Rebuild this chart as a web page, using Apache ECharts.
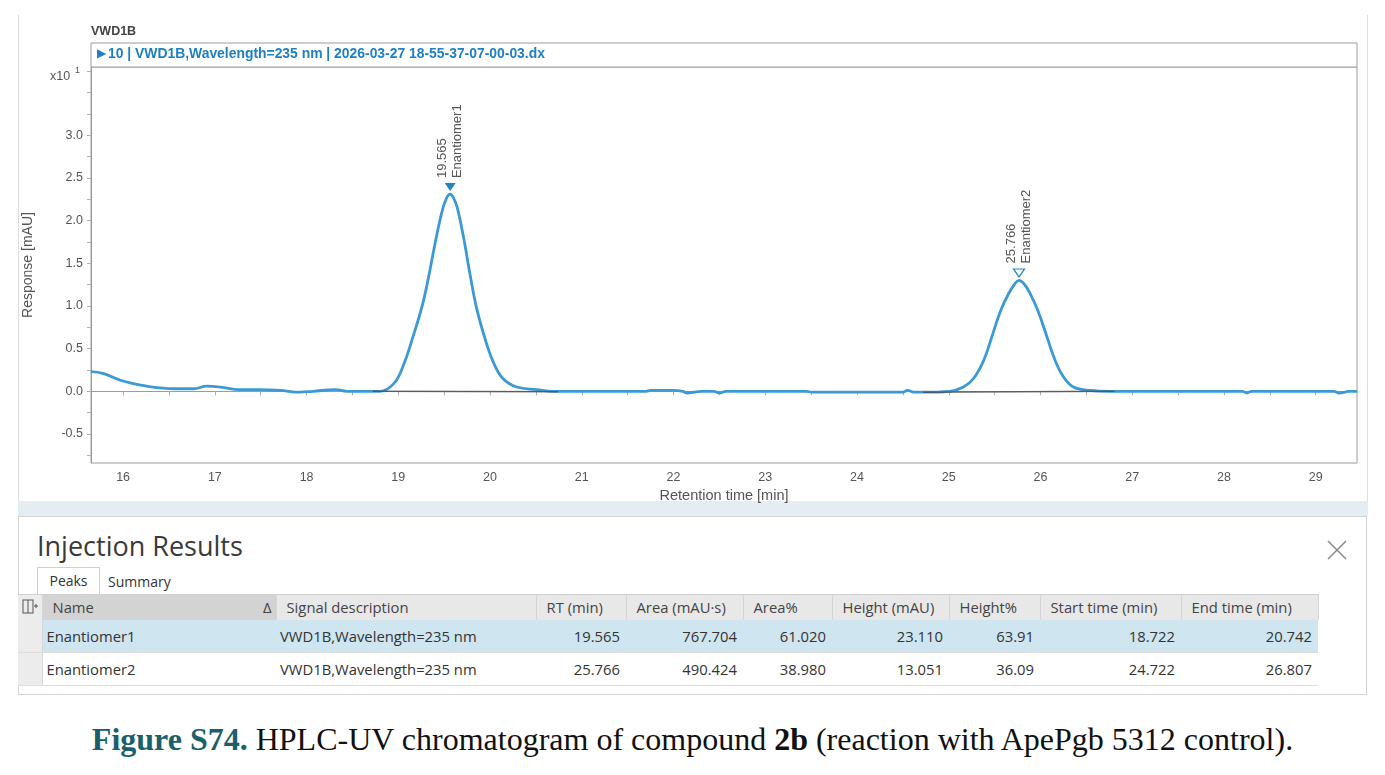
<!DOCTYPE html>
<html>
<head>
<meta charset="utf-8">
<script src="https://cdn.jsdelivr.net/npm/echarts@6/dist/echarts.min.js"></script>
<style>
  body { margin: 0; width: 1385px; height: 775px; background: #fff; position: relative; overflow: hidden; font-family: "Open Sans", sans-serif; }
  #frame { position: absolute; left: 18px; top: 15px; width: 1348px; height: 486px; border-left: 1px solid #dcdcdc; border-right: 1px solid #dcdcdc; }
  #band { position: absolute; left: 18px; top: 501px; width: 1350px; height: 15px; background: #e4eef2; }
  #chart { position: absolute; left: 0; top: 0; width: 1385px; height: 505px; }
  #results { position: absolute; left: 18px; top: 516px; width: 1347px; height: 177px; border: 1px solid #d4d4d4; background: #fff; }
  #results h2 { position: absolute; left: 18px; top: 10px; margin: 0; font-weight: normal; font-size: 27px; color: #3a3a3a; }
  #close { position: absolute; left: 1307px; top: 22px; }
  #tabPeaks { position: absolute; left: 18px; top: 50px; width: 61px; height: 26px; border: 1px solid #cfcfcf; border-bottom: none; background: #fff; font-size: 14px; color: #333; text-align: center; line-height: 26px; z-index: 2; }
  #tabSummary { position: absolute; left: 89px; top: 52px; font-size: 14px; color: #333; line-height: 26px; }
  #peaks { position: absolute; left: -1px; top: 77px; border-collapse: collapse; table-layout: fixed; font-size: 14.8px; color: #333; }
  #peaks th { height: 24px; background: #e8e8e8; font-weight: normal; text-align: left; padding: 0 0 1px 10px; border-top: 1px solid #cfcfcf; border-right: 1px solid #d6d6d6; color: #444; white-space: nowrap; overflow: hidden; }
  #peaks th.sorted { background: #d3d3d3; }
  #peaks td { height: 31px; padding: 0 6px 1px 4px; border-bottom: 1px solid #dedede; white-space: nowrap; overflow: hidden; }
  #peaks td.num { text-align: right; }
  #peaks td.icon, #peaks th.icon { background: #ececec; padding: 0; border-right: 1px solid #d6d6d6; }
  #peaks tr.sel td { background: #cfe5f0; }
  #peaks tr.sel td.icon { background: #ececec; }
  #caption { position: absolute; left: 0; width: 1385px; top: 721px; text-align: center; font-family: "Liberation Serif", serif; font-size: 32px; color: #111; }
  #caption b.fig { color: #1c5f6c; }
</style>
</head>
<body>
<div id="frame"></div>
<div id="band"></div>
<div id="chart"></div>
<div id="results">
  <h2>Injection Results</h2>
  <svg id="close" width="22" height="22"><path d="M2 2 L20 20 M20 2 L2 20" stroke="#8a8a8a" stroke-width="1.5"/></svg>
  <div id="tabPeaks">Peaks</div>
  <div id="tabSummary">Summary</div>
  <table id="peaks"></table>
</div>
<div id="caption"><b class="fig">Figure S74.</b> HPLC-UV chromatogram of compound <b>2b</b> (reaction with ApePgb 5312 control).</div>

<script>
// chromatogram trace, [time min, response x10 mAU]
var trace = [
  [15.65, 0.23], [15.78, 0.21], [15.97, 0.13], [16.11, 0.09], [16.26, 0.06], [16.40, 0.04],
  [16.58, 0.03], [16.77, 0.03], [16.91, 0.06], [17.06, 0.05], [17.27, 0.02], [17.49, 0.02],
  [17.71, 0.01], [17.93, -0.01], [18.07, 0.0], [18.31, 0.02], [18.44, 0.0], [18.76, 0.0],
  [18.80, 0.0], [18.95, 0.09], [19.05, 0.29], [19.16, 0.64], [19.26, 1.0], [19.33, 1.34],
  [19.40, 1.73], [19.47, 2.08], [19.52, 2.25], [19.565, 2.31], [19.60, 2.27], [19.64, 2.16],
  [19.71, 1.81], [19.78, 1.38], [19.85, 0.99], [19.95, 0.60], [20.04, 0.33], [20.14, 0.15],
  [20.29, 0.05], [20.51, 0.02], [20.69, 0.0], [20.9, 0.0], [21.3, 0.0], [21.7, 0.0],
  [21.75, 0.01], [22.0, 0.01], [22.1, 0.0], [22.15, -0.02], [22.22, -0.01], [22.3, 0.0],
  [22.44, 0.0], [22.5, -0.02], [22.57, 0.0], [23.45, 0.0], [23.5, -0.01], [24.5, -0.01],
  [24.55, 0.01], [24.62, -0.01], [24.72, -0.01], [25.01, 0.0],
  [25.16, 0.05], [25.27, 0.15], [25.38, 0.36], [25.47, 0.64], [25.56, 0.93], [25.65, 1.14],
  [25.72, 1.26], [25.766, 1.30], [25.82, 1.26], [25.88, 1.16], [25.97, 0.95], [26.07, 0.64],
  [26.16, 0.36], [26.25, 0.17], [26.36, 0.05], [26.54, 0.01], [26.76, 0.0],
  [27.5, 0.0], [28.2, 0.0], [28.25, -0.02], [28.3, 0.0], [29.2, 0.0], [29.25, -0.02],
  [29.32, -0.01], [29.35, 0.0], [29.45, 0.0]
];
// integration baselines under the peaks
var baseline1 = [[18.722, 0.0], [20.742, -0.005]];
var baseline2 = [[24.722, -0.01], [26.807, 0.0]];

var xTicks = [16, 17, 18, 19, 20, 21, 22, 23, 24, 25, 26, 27, 28, 29];
var yTicks = [-0.5, 0.0, 0.5, 1.0, 1.5, 2.0, 2.5, 3.0];

// peak table
var peakNames = ['Enantiomer1', 'Enantiomer2'];
var signals = ['VWD1B,Wavelength=235 nm', 'VWD1B,Wavelength=235 nm'];
var rt = ['19.565', '25.766'];
var area = ['767.704', '490.424'];
var areaPct = ['61.020', '38.980'];
var height = ['23.110', '13.051'];
var heightPct = ['63.91', '36.09'];
var startTime = ['18.722', '24.722'];
var endTime = ['20.742', '26.807'];
var columns = ['Name', 'Signal description', 'RT (min)', 'Area (mAU·s)', 'Area%', 'Height (mAU)', 'Height%', 'Start time (min)', 'End time (min)'];
var colWidths = [24, 234, 260, 90, 117, 89, 117, 91, 141, 137];

// build the table
var html = '<colgroup>';
colWidths.forEach(function (w) { html += '<col style="width:' + w + 'px">'; });
html += '</colgroup><tr><th class="icon"><svg width="22" height="20"><rect x="5" y="4" width="10" height="13" fill="none" stroke="#555" stroke-width="1"/><line x1="10" y1="4" x2="10" y2="17" stroke="#555"/><path d="M16 10 h4 M18 8 v4" stroke="#555"/></svg></th>';
columns.forEach(function (c, i) {
  if (i === 0) {
    html += '<th class="sorted">' + c + '<span style="float:right;margin-right:4px">&#916;</span></th>';
  } else {
    html += '<th>' + c + '</th>';
  }
});
html += '</tr>';
peakNames.forEach(function (n, i) {
  html += '<tr' + (i === 0 ? ' class="sel"' : '') + '><td class="icon"></td>' +
    '<td>' + n + '</td><td>' + signals[i] + '</td>' +
    '<td class="num">' + rt[i] + '</td><td class="num">' + area[i] + '</td>' +
    '<td class="num">' + areaPct[i] + '</td><td class="num">' + height[i] + '</td>' +
    '<td class="num">' + heightPct[i] + '</td><td class="num">' + startTime[i] + '</td>' +
    '<td class="num">' + endTime[i] + '</td></tr>';
});
document.getElementById('peaks').innerHTML = html;

var blue = '#3b9ad6';
var font = 'Liberation Sans';

var peakMarks = peakNames.map(function (n, i) {
  return {
    coord: [parseFloat(rt[i]), parseFloat(height[i]) / 10],
    symbol: 'triangle',
    symbolRotate: 180,
    symbolSize: [11, 8],
    symbolOffset: [0, -7],
    itemStyle: i === 0 ? { color: '#1f86cc' } : { color: '#fff', borderColor: '#1f86cc', borderWidth: 1.2 },
    label: {
      show: true,
      position: 'top',
      distance: 5,
      rotate: 90,
      align: 'left',
      verticalAlign: 'middle',
      color: '#555',
      fontSize: 13,
      lineHeight: 15,
      fontFamily: font,
      formatter: rt[i] + '\n' + n
    }
  };
});

var chart = echarts.init(document.getElementById('chart'));
chart.setOption({
  animation: false,
  textStyle: { fontFamily: font },
  grid: { left: 91, right: 28, top: 67, bottom: 42, show: true, borderColor: '#9c9c9c', borderWidth: 1, containLabel: false, outerBoundsMode: 'none' },
  xAxis: {
    type: 'value',
    min: 15.65,
    max: 29.45,
    name: 'Retention time [min]',
    nameLocation: 'middle',
    nameGap: 22,
    nameTextStyle: { color: '#555', fontSize: 14.5, fontFamily: font },
    axisLine: { lineStyle: { color: '#9c9c9c' } },
    axisTick: { show: true, length: 4, lineStyle: { color: '#b0b0b0' }, customValues: [16, 16.5, 17, 17.5, 18, 18.5, 19, 19.5, 20, 20.5, 21, 21.5, 22, 22.5, 23, 23.5, 24, 24.5, 25, 25.5, 26, 26.5, 27, 27.5, 28, 28.5, 29] },
    axisLabel: { color: '#555', fontSize: 12.5, margin: 8, customValues: xTicks, formatter: function (v) { return String(v); } },
    splitLine: { show: false }
  },
  yAxis: {
    type: 'value',
    min: -0.84,
    max: 3.8,
    name: 'Response [mAU]',
    nameLocation: 'middle',
    nameGap: 56,
    nameTextStyle: { color: '#555', fontSize: 14, fontFamily: font },
    axisLine: { show: true, lineStyle: { color: '#9c9c9c' } },
    axisTick: { show: true, length: 4, lineStyle: { color: '#b0b0b0' }, customValues: [-0.75, -0.5, -0.25, 0, 0.25, 0.5, 0.75, 1, 1.25, 1.5, 1.75, 2, 2.25, 2.5, 2.75, 3, 3.25, 3.5, 3.75] },
    axisLabel: { color: '#555', fontSize: 12.5, margin: 8, customValues: yTicks, formatter: function (v) { return v.toFixed(1); } },
    splitLine: { show: false }
  },
  graphic: [
    { type: 'text', left: 91, top: 25, style: { text: 'VWD1B', fill: '#444', font: 'bold 12.5px "Liberation Sans"' } },
    { type: 'rect', shape: { x: 91, y: 43, width: 1266, height: 24 }, style: { fill: '#fff', stroke: '#9c9c9c', lineWidth: 1 } },
    { type: 'text', x: 97, y: 48, style: { text: '\u25B6', fill: '#1f7fc4', font: '12px "DejaVu Sans"' } },
    { type: 'text', x: 108, y: 47, style: { text: '10 | VWD1B,Wavelength=235 nm | 2026-03-27 18-55-37-07-00-03.dx', fill: '#1f7fc4', font: 'bold 13.9px "Liberation Sans"' } },
    { type: 'text', x: 50, y: 70, style: { text: 'x10', fill: '#555', font: '12.5px "Liberation Sans"' } },
    { type: 'text', x: 75, y: 66, style: { text: '1', fill: '#555', font: '9px "Liberation Sans"' } }
  ],
  series: [
    {
      type: 'line',
      data: trace,
      showSymbol: false,
      smooth: 0.4,
      lineStyle: { color: blue, width: 2.8 },
      z: 2,
      markPoint: { data: peakMarks }
    },
    {
      type: 'line',
      data: baseline1,
      showSymbol: false,
      lineStyle: { color: '#4c4c4c', width: 1.5, opacity: 0.8 },
      z: 3
    },
    {
      type: 'line',
      data: baseline2,
      showSymbol: false,
      lineStyle: { color: '#4c4c4c', width: 1.5, opacity: 0.8 },
      z: 3
    }
  ]
});
</script>
</body>
</html>
